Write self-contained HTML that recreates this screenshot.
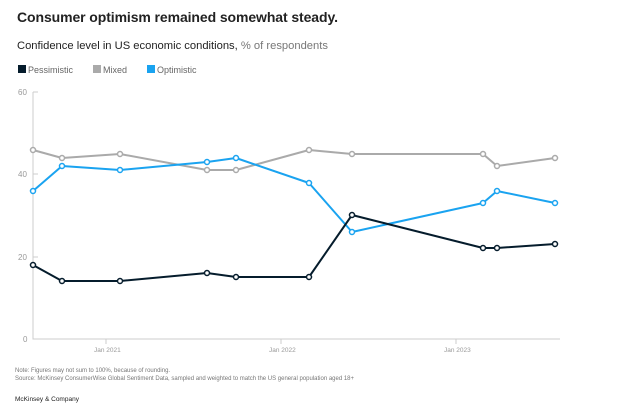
<!DOCTYPE html><html><head><style>body{margin:0;background:#fff;width:624px;height:408px;overflow:hidden;font-family:"Liberation Sans",sans-serif}</style></head><body>
<svg width="624" height="408" xmlns="http://www.w3.org/2000/svg" font-family="Liberation Sans, sans-serif">
<text x="17" y="22" font-size="14" font-weight="bold" fill="#222" textLength="321">Consumer optimism remained somewhat steady.</text>
<text x="17" y="49" font-size="11.2" fill="#222">Confidence level in US economic conditions, <tspan fill="#777">% of respondents</tspan></text>
<rect x="18" y="65" width="8" height="8" fill="#051c2c"/><text x="28" y="73" font-size="9" fill="#666">Pessimistic</text>
<rect x="93" y="65" width="8" height="8" fill="#aaa"/><text x="103" y="73" font-size="9" fill="#666">Mixed</text>
<rect x="147" y="65" width="8" height="8" fill="#1aa3f0"/><text x="157" y="73" font-size="9" fill="#666">Optimistic</text>
<g stroke="#ccc" stroke-width="1" fill="none"><path d="M33 92V339H560"/><path d="M33 92h5"/><path d="M33 257h5M33 174h5"/><path d="M106 339v5M281 339v5M456 339v5"/></g>
<g font-size="8" fill="#999"><text x="18" y="95">60</text><text x="18" y="177">40</text><text x="18" y="260">20</text><text x="23" y="342">0</text>
<text x="94" y="352" font-size="6.5">Jan 2021</text><text x="269" y="352" font-size="6.5">Jan 2022</text><text x="444" y="352" font-size="6.5">Jan 2023</text></g>
<g stroke-width="2" fill="#fff" stroke-linejoin="round">
<polyline fill="none" stroke="#aaa" points="33,150 62,158 120,154 207,170 236,170 309,150 352,154 483,154 497,166 555,158"/>
<g stroke="#aaa" stroke-width="1.5"><circle cx="33" cy="150" r="2.5"/><circle cx="62" cy="158" r="2.5"/><circle cx="120" cy="154" r="2.5"/><circle cx="207" cy="170" r="2.5"/><circle cx="236" cy="170" r="2.5"/><circle cx="309" cy="150" r="2.5"/><circle cx="352" cy="154" r="2.5"/><circle cx="483" cy="154" r="2.5"/><circle cx="497" cy="166" r="2.5"/><circle cx="555" cy="158" r="2.5"/></g>
<polyline fill="none" stroke="#1aa3f0" points="33,191 62,166 120,170 207,162 236,158 309,183 352,232 483,203 497,191 555,203"/>
<g stroke="#1aa3f0" stroke-width="1.5"><circle cx="33" cy="191" r="2.5"/><circle cx="62" cy="166" r="2.5"/><circle cx="120" cy="170" r="2.5"/><circle cx="207" cy="162" r="2.5"/><circle cx="236" cy="158" r="2.5"/><circle cx="309" cy="183" r="2.5"/><circle cx="352" cy="232" r="2.5"/><circle cx="483" cy="203" r="2.5"/><circle cx="497" cy="191" r="2.5"/><circle cx="555" cy="203" r="2.5"/></g>
<polyline fill="none" stroke="#051c2c" points="33,265 62,281 120,281 207,273 236,277 309,277 352,215 483,248 497,248 555,244"/>
<g stroke="#051c2c" stroke-width="1.5"><circle cx="33" cy="265" r="2.5"/><circle cx="62" cy="281" r="2.5"/><circle cx="120" cy="281" r="2.5"/><circle cx="207" cy="273" r="2.5"/><circle cx="236" cy="277" r="2.5"/><circle cx="309" cy="277" r="2.5"/><circle cx="352" cy="215" r="2.5"/><circle cx="483" cy="248" r="2.5"/><circle cx="497" cy="248" r="2.5"/><circle cx="555" cy="244" r="2.5"/></g>
</g>
<g font-size="6" fill="#777"><text x="15" y="372">Note: Figures may not sum to 100%, because of rounding.</text><text x="15" y="380">Source: McKinsey ConsumerWise Global Sentiment Data, sampled and weighted to match the US general population aged 18+</text></g>
<text x="15" y="401" font-size="6.5" fill="#222">McKinsey &amp; Company</text>
</svg></body></html>
